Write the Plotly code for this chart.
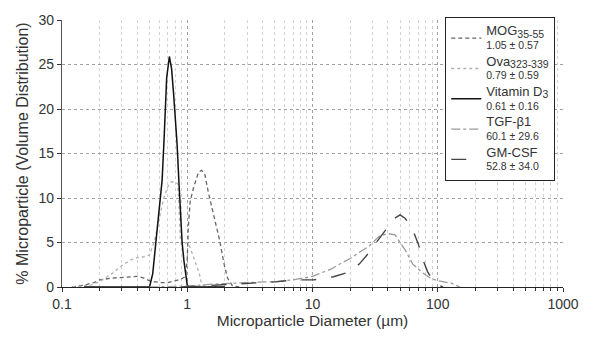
import plotly.graph_objects as go

# ---- data ----
mog_x = [0.12, 0.15, 0.18, 0.2, 0.25, 0.3, 0.35, 0.4, 0.45, 0.5, 0.6, 0.7, 0.8, 0.9, 0.97, 1.0, 1.02, 1.055,
         1.12, 1.23, 1.3, 1.38, 1.47, 1.65, 1.81, 1.98, 2.1, 2.3, 2.6]
mog_y = [0, 0.2, 0.5, 0.8, 1.0, 1.1, 1.2, 1.2, 1.0, 0.7, 0.5, 0.5, 0.7, 0.9, 1.2, 3.2, 6.8, 9.6,
         11.1, 12.9, 13.1, 12.7, 10.7, 7.5, 5.3, 2.4, 1.0, 0.1, 0]

ova_x = [0.12, 0.17, 0.2, 0.25, 0.3, 0.35, 0.4, 0.45, 0.5, 0.55, 0.6, 0.65, 0.7, 0.74, 0.8, 0.84, 0.86,
         0.88, 0.9, 1.0, 1.05, 1.15, 1.25, 1.3, 1.4, 2.0]
ova_y = [0, 0.2, 0.6, 1.5, 2.4, 3.0, 3.3, 3.4, 3.6, 5.3, 7.8, 10.0, 11.3, 11.8, 11.8, 11.6, 9.0,
         5.5, 4.8, 5.0, 4.5, 3.0, 1.5, 0.3, 0.05, 0]

vitd_x = [0.15, 0.5, 0.53, 0.56, 0.6, 0.63, 0.655, 0.685, 0.72, 0.75, 0.78, 0.81, 0.83, 0.86, 0.88,
          0.91, 0.94, 0.97, 1.0, 1.05, 2.0]
vitd_y = [0, 0, 1.5, 4.8, 8.5, 12.0, 17.0, 23.5, 25.9, 24.5, 21.5, 18.5, 16.0, 11.5, 8.5,
          5.0, 3.0, 1.3, 0.2, 0, 0]

tgf_x = [0.5, 1.0, 1.5, 2, 3, 5, 7, 10, 12, 14, 17.6, 20, 23.7, 28.4, 34, 40, 45.6, 54.7, 63, 74, 88,
         100, 130, 150]
tgf_y = [0, 0.1, 0.3, 0.4, 0.5, 0.6, 0.8, 1.2, 1.6, 2.0, 2.8, 3.2, 3.9, 4.6, 5.7, 6.0, 5.85, 4.2, 2.6,
         1.7, 0.97, 0.7, 0.4, 0]

gm_x = [0.9, 1.2, 2, 3.5, 5.3, 7.2, 10.2, 14.7, 19.8, 23.7, 28.4, 31.9, 40.6, 45, 50, 55, 61.7, 69.7,
        76, 83, 91, 99.5, 110]
gm_y = [0, 0.1, 0.2, 0.4, 0.6, 0.8, 0.8, 1.15, 1.7, 2.6, 3.9, 4.9, 6.9, 7.7, 8.1, 7.7, 6.75, 4.9,
        3.1, 1.7, 0.8, 0.25, 0]

names = [
    '<span style="font-size:13px">MOG</span><sub><span style="font-size:10.5px">35-55</span></sub><br>1.05 ± 0.57',
    '<span style="font-size:13px">Ova</span><sub><span style="font-size:10.5px">323-339</span></sub><br>0.79 ± 0.59',
    '<span style="font-size:13px">Vitamin D</span><sub><span style="font-size:10.5px">3</span></sub><br>0.61 ± 0.16',
    '<span style="font-size:13px">TGF-β1</span><br>60.1 ± 29.6',
    '<span style="font-size:13px">GM-CSF</span><br>52.8 ± 34.0',
]

x_ticks = [0.1, 1, 10, 100, 1000]
x_tick_text = ["0.1", "1", "10", "100", "1000"]
minor_vals = [m * d for d in (0.1, 1, 10, 100) for m in range(2, 10)]

fig = go.Figure()
series = [
    (mog_x, mog_y, dict(color="#666666", width=1.3, dash="4px,3px")),
    (ova_x, ova_y, dict(color="#b0b0b0", width=1.3, dash="dot")),
    (vitd_x, vitd_y, dict(color="#111111", width=1.5, dash="solid")),
    (tgf_x, tgf_y, dict(color="#9a9a9a", width=1.3, dash="dashdot")),
    (gm_x, gm_y, dict(color="#444444", width=1.4, dash="longdash")),
]
for (xs, ys, ln), nm in zip(series, names):
    fig.add_trace(go.Scatter(x=xs, y=ys, mode="lines", name=nm, line=ln))

fig.update_layout(
    width=591, height=338,
    margin=dict(l=62, r=16, t=15, b=46),
    paper_bgcolor="white", plot_bgcolor="white",
    font=dict(family="Liberation Sans, Arial, sans-serif", color="#333333", size=14),
    legend=dict(
        x=0.765, y=1.011, xanchor="left", yanchor="top",
        bordercolor="#222222", borderwidth=1, bgcolor="white",
        font=dict(size=10.5, color="#333333"),
        tracegroupgap=0, itemwidth=30, maxheight=1.0,
    ),
    xaxis=dict(
        type="log", range=[-1, 3],
        tickvals=x_ticks, ticktext=x_tick_text,
        ticks="outside", ticklen=4, tickcolor="#333333",
        showline=True, linecolor="#222222", linewidth=1.2,
        showgrid=True, gridcolor="#a0a0a0", griddash="dot", gridwidth=1,
        minor=dict(tickmode="array", tickvals=minor_vals, ticks="outside", ticklen=3,
                   tickcolor="#333333", showgrid=True, gridcolor="#d2d2d2", griddash="dot"),
        zeroline=False,
        title=dict(text="Microparticle Diameter (µm)", font=dict(size=15.5), standoff=3),
    ),
    yaxis=dict(
        range=[0, 30], tickvals=[0, 5, 10, 15, 20, 25, 30],
        ticks="outside", ticklen=4, tickcolor="#333333",
        showline=True, linecolor="#555555", linewidth=1.2,
        showgrid=True, gridcolor="#a0a0a0", griddash="dot", gridwidth=1,
        zeroline=False,
        title=dict(text="% Microparticle (Volume Distribution)", font=dict(size=16), standoff=5),
    ),
)

fig.write_html("out.html")
